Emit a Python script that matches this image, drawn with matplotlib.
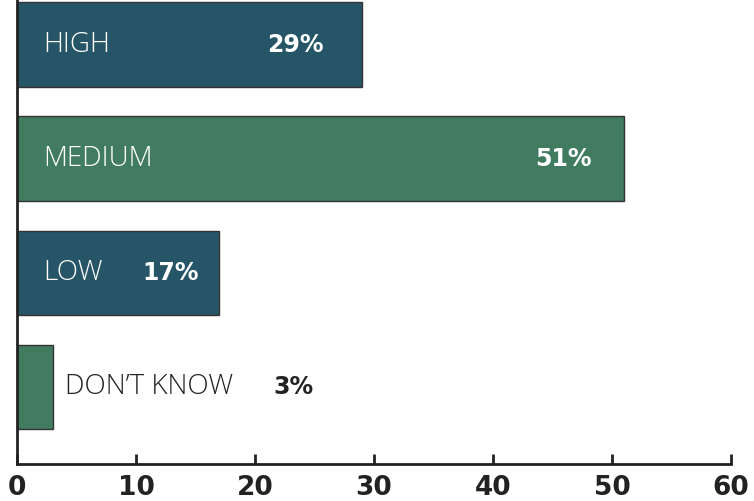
import matplotlib
matplotlib.use("Agg")
import matplotlib.pyplot as plt

# data
categories = ["HIGH", "MEDIUM", "LOW", "DON\u2019T KNOW"]
values = [29, 51, 17, 3]
pct_labels = ["29%", "51%", "17%", "3%"]

colors = ["#255566", "#417b60", "#255566", "#417b60"]
# horizontal offsets (points) of the percentage labels from the bar end
pct_offsets = [-28, -23, -15, 159]

plt.rcParams['font.family'] = ['Open Sans', 'DejaVu Sans']

fig = plt.figure(figsize=(7.54, 5.01), dpi=100)
ax = fig.add_axes([17 / 754, 37 / 501, (731 - 17) / 754, 464 / 501])

ypos = list(range(len(values)))
ax.barh(ypos, values, height=0.74, color=colors, edgecolor="#333333", linewidth=1.0)

ax.set_xlim(0, 60)
ax.set_ylim(3.675, -0.39)

bold = dict(family="DejaVu Sans", fontweight="bold", fontsize=17)
light = dict(fontsize=20, fontweight="light")

# labels inside / beside the bars
for i, (cat, v, p, off) in enumerate(zip(categories, values, pct_labels, pct_offsets)):
    if v > 10:
        ax.annotate(cat, (0, i), xytext=(19, 0), textcoords="offset points",
                    ha="left", va="center", color="white", **light)
        ax.annotate(p, (v, i), xytext=(off, 0), textcoords="offset points",
                    ha="right", va="center", color="white", **bold)
    else:
        ax.annotate(cat, (v, i), xytext=(9, 0), textcoords="offset points",
                    ha="left", va="center", color="#222222", **light)
        ax.annotate(p, (v, i), xytext=(off, 0), textcoords="offset points",
                    ha="left", va="center", color="#222222", **bold)

ax.set_xticks([0, 10, 20, 30, 40, 50, 60])
ax.set_yticks([])
ax.tick_params(axis="x", direction="in", length=7, width=2, color="#222222",
               labelsize=19, pad=8, labelcolor="#222222")
for lab in ax.get_xticklabels():
    lab.set_fontweight("bold")
    lab.set_family("DejaVu Sans")

for s in ["top", "right"]:
    ax.spines[s].set_visible(False)
ax.spines["left"].set_linewidth(2)
ax.spines["bottom"].set_linewidth(2)
ax.spines["left"].set_color("#222222")
ax.spines["bottom"].set_color("#222222")

fig.savefig("out.png", dpi=100)
